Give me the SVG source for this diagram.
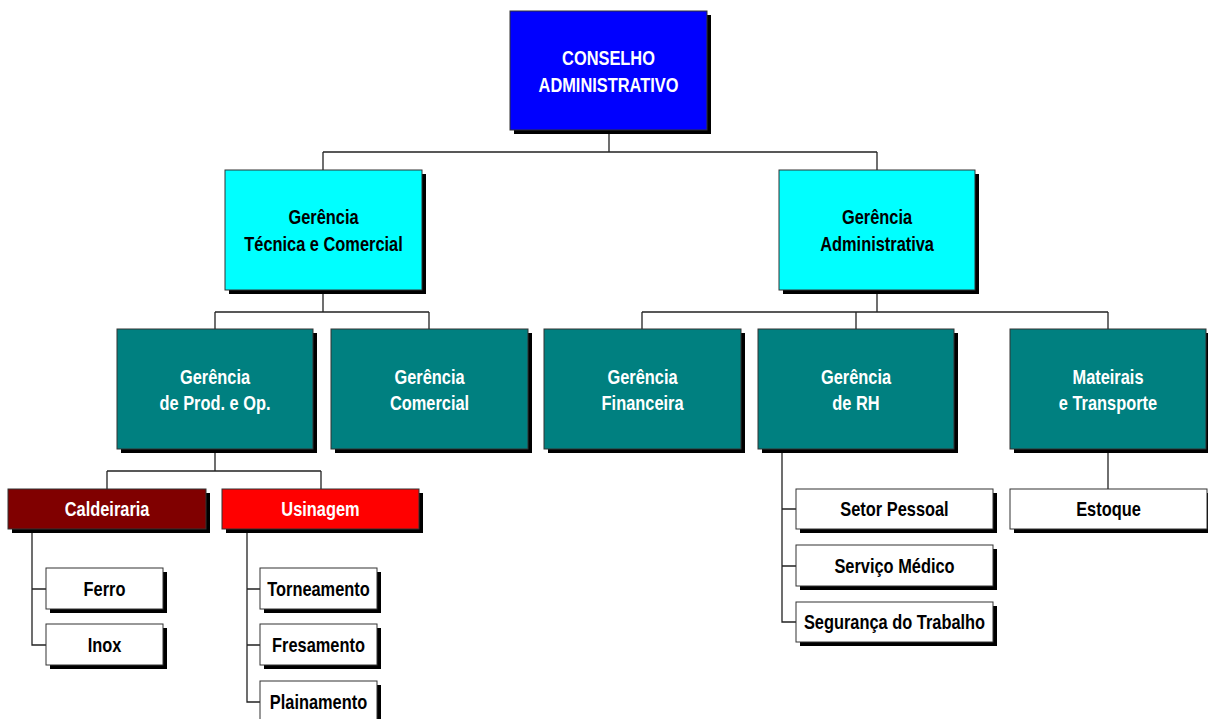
<svg xmlns="http://www.w3.org/2000/svg" width="1208" height="719" viewBox="0 0 1208 719">
  <style>
    .sh { fill: #000; }
    .bx { stroke: #333; stroke-width: 1; }
    .blue { fill: #0000ff; }
    .cyan { fill: #00ffff; }
    .teal { fill: #008080; }
    .maroon { fill: #800000; }
    .red { fill: #ff0000; }
    .white { fill: #ffffff; }
    /* narrow bold labels: condensed horizontally around their own centre */
    text { font-family: "Liberation Sans", Arial, sans-serif; font-weight: bold; font-size: 20px; text-anchor: middle;
           transform-box: fill-box; transform-origin: center; transform: scaleX(0.82); }
    .lt { fill: #ffffff; }
    .dk { fill: #000000; }
    .conn { fill: none; stroke: #222; stroke-width: 1.3; }
  </style>

  <!-- connectors -->
  <g id="connectors">
    <path class="conn" d="M609 130 V152 M323 152 H877 M323 152 V170 M877 152 V170"/>
    <path class="conn" d="M323 290 V312 M215 312 H429 M215 312 V329 M429 312 V329"/>
    <path class="conn" d="M877 290 V312 M642 312 H1108 M642 312 V329 M856 312 V329 M1108 312 V329"/>
    <path class="conn" d="M215 449 V471 M107 471 H321 M107 471 V489 M321 471 V489"/>
    <path class="conn" d="M32 529 V645 H46 M32 589 H46"/>
    <path class="conn" d="M247 529 V702 H260 M247 589 H260 M247 645 H260"/>
    <path class="conn" d="M782 449 V622 H796 M782 509 H796 M782 566 H796"/>
    <path class="conn" d="M1108 449 V489"/>
  </g>

  <!-- level 1 -->
  <g id="conselho">
    <rect class="sh" x="514" y="15" width="197" height="119"/>
    <rect class="bx blue" x="510" y="11" width="197" height="119"/>
    <text class="lt" x="608.5" y="65">CONSELHO</text>
    <text class="lt" x="608.5" y="92">ADMINISTRATIVO</text>
  </g>

  <!-- level 2 -->
  <g id="ger-tecnica">
    <rect class="sh" x="229" y="174" width="197" height="120"/>
    <rect class="bx cyan" x="225" y="170" width="197" height="120"/>
    <text class="dk" x="323.5" y="224">Gerência</text>
    <text class="dk" x="323.5" y="251">Técnica e Comercial</text>
  </g>
  <g id="ger-admin">
    <rect class="sh" x="783" y="174" width="196" height="120"/>
    <rect class="bx cyan" x="779" y="170" width="196" height="120"/>
    <text class="dk" x="877" y="224">Gerência</text>
    <text class="dk" x="877" y="251">Administrativa</text>
  </g>

  <!-- level 3 -->
  <g id="ger-prod">
    <rect class="sh" x="121" y="333" width="196" height="120"/>
    <rect class="bx teal" x="117" y="329" width="196" height="120"/>
    <text class="lt" x="215" y="384">Gerência</text>
    <text class="lt" x="215" y="410">de Prod. e Op.</text>
  </g>
  <g id="ger-comercial">
    <rect class="sh" x="335" y="333" width="197" height="120"/>
    <rect class="bx teal" x="331" y="329" width="197" height="120"/>
    <text class="lt" x="429.5" y="384">Gerência</text>
    <text class="lt" x="429.5" y="410">Comercial</text>
  </g>
  <g id="ger-financeira">
    <rect class="sh" x="548" y="333" width="197" height="120"/>
    <rect class="bx teal" x="544" y="329" width="197" height="120"/>
    <text class="lt" x="642.5" y="384">Gerência</text>
    <text class="lt" x="642.5" y="410">Financeira</text>
  </g>
  <g id="ger-rh">
    <rect class="sh" x="762" y="333" width="196" height="120"/>
    <rect class="bx teal" x="758" y="329" width="196" height="120"/>
    <text class="lt" x="856" y="384">Gerência</text>
    <text class="lt" x="856" y="410">de RH</text>
  </g>
  <g id="materiais">
    <rect class="sh" x="1014" y="333" width="196" height="120"/>
    <rect class="bx teal" x="1010" y="329" width="196" height="120"/>
    <text class="lt" x="1108" y="384">Mateirais</text>
    <text class="lt" x="1108" y="410">e Transporte</text>
  </g>

  <!-- level 4 -->
  <g id="caldeiraria">
    <rect class="sh" x="12" y="493" width="198" height="40"/>
    <rect class="bx maroon" x="8" y="489" width="198" height="40"/>
    <text class="lt" x="107" y="516">Caldeiraria</text>
  </g>
  <g id="usinagem">
    <rect class="sh" x="226" y="493" width="197" height="40"/>
    <rect class="bx red" x="222" y="489" width="197" height="40"/>
    <text class="lt" x="320.5" y="516">Usinagem</text>
  </g>
  <g id="setor-pessoal">
    <rect class="sh" x="800" y="493" width="197" height="40"/>
    <rect class="bx white" x="796" y="489" width="197" height="40"/>
    <text class="dk" x="894.5" y="516">Setor Pessoal</text>
  </g>
  <g id="servico-medico">
    <rect class="sh" x="800" y="549" width="197" height="41"/>
    <rect class="bx white" x="796" y="545" width="197" height="41"/>
    <text class="dk" x="894.5" y="573">Serviço Médico</text>
  </g>
  <g id="seguranca">
    <rect class="sh" x="800" y="606" width="197" height="40"/>
    <rect class="bx white" x="796" y="602" width="197" height="40"/>
    <text class="dk" x="894.5" y="629">Segurança do Trabalho</text>
  </g>
  <g id="estoque">
    <rect class="sh" x="1014" y="493" width="197" height="40"/>
    <rect class="bx white" x="1010" y="489" width="197" height="40"/>
    <text class="dk" x="1108.5" y="516">Estoque</text>
  </g>

  <!-- level 5 -->
  <g id="ferro">
    <rect class="sh" x="50" y="572" width="117" height="41"/>
    <rect class="bx white" x="46" y="568" width="117" height="41"/>
    <text class="dk" x="104.5" y="596">Ferro</text>
  </g>
  <g id="inox">
    <rect class="sh" x="50" y="628" width="117" height="41"/>
    <rect class="bx white" x="46" y="624" width="117" height="41"/>
    <text class="dk" x="104.5" y="652">Inox</text>
  </g>
  <g id="torneamento">
    <rect class="sh" x="264" y="572" width="117" height="41"/>
    <rect class="bx white" x="260" y="568" width="117" height="41"/>
    <text class="dk" x="318.5" y="596">Torneamento</text>
  </g>
  <g id="fresamento">
    <rect class="sh" x="264" y="628" width="117" height="41"/>
    <rect class="bx white" x="260" y="624" width="117" height="41"/>
    <text class="dk" x="318.5" y="652">Fresamento</text>
  </g>
  <g id="plainamento">
    <rect class="sh" x="264" y="685" width="117" height="41"/>
    <rect class="bx white" x="260" y="681" width="117" height="41"/>
    <text class="dk" x="318.5" y="709">Plainamento</text>
  </g>
</svg>
